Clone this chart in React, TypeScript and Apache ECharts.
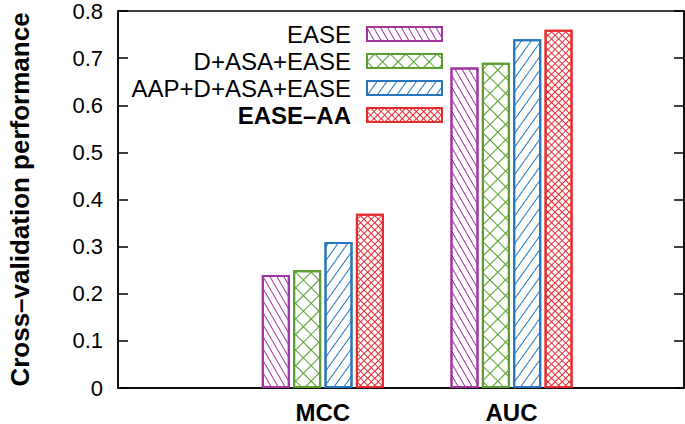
import React, { useEffect, useRef } from 'react';
import * as echarts from 'echarts';

const categories = ['MCC', 'AUC'];
const seriesNames = ['EASE', 'D+ASA+EASE', 'AAP+D+ASA+EASE', 'EASE–AA'];
const easeValues = [0.24, 0.68];
const dAsaEaseValues = [0.25, 0.69];
const aapDAsaEaseValues = [0.31, 0.74];
const easeAaValues = [0.37, 0.76];
const yAxisTitle = 'Cross–validation performance';

const FONT = "'Liberation Sans', Arial, Helvetica, sans-serif";
const colors = ['#a3349f', '#5b9e2f', '#2676bd', '#e52b2f'];

const plusThin = 'path://M0 4.5 H10 V5.5 H0 Z M4.5 0 H5.5 V10 H4.5 Z';
const plusThick = 'path://M0 4 H10 V6 H0 Z M4 0 H6 V10 H4 Z';

const decals: any[] = [
  { symbol: 'rect', symbolSize: 1, color: colors[0], dashArrayX: [1, 0], dashArrayY: [1, 5], rotation: Math.PI / 3 },
  { symbol: plusThin, symbolSize: 1, symbolKeepAspect: false, color: colors[1], dashArrayX: [11, 0], dashArrayY: [11, 0], rotation: Math.PI / 4 },
  { symbol: 'rect', symbolSize: 1, color: colors[2], dashArrayX: [1, 0], dashArrayY: [1, 7], rotation: -Math.PI / 3.3 },
  { symbol: plusThick, symbolSize: 1, symbolKeepAspect: false, color: colors[3], dashArrayX: [5, 0], dashArrayY: [5, 0], rotation: Math.PI / 4 },
];

export default function App() {
  const ref = useRef<HTMLDivElement>(null);
  useEffect(() => {
    if (!ref.current) return;
    const chart = echarts.init(ref.current, null, { renderer: 'svg' });
    const allValues = [easeValues, dAsaEaseValues, aapDAsaEaseValues, easeAaValues];
    const series = allValues.map((vals, i) => ({
      type: 'bar',
      name: seriesNames[i],
      data: vals.map((v, k) => [k, v]),
      barWidth: 28,
      barGap: '12%',
      itemStyle: {
        color: '#ffffff',
        borderColor: colors[i],
        borderWidth: 2,
        decal: decals[i],
      },
      emphasis: { disabled: true },
    }));
    const option: any = {
      animation: false,
      backgroundColor: '#ffffff',
      grid: {
        left: 118, right: 1, top: 11, bottom: 36,
        outerBoundsMode: 'none',
        containLabel: false,
        show: true, borderColor: '#000', borderWidth: 1.5, backgroundColor: 'transparent',
      },
      legend: {
        orient: 'vertical',
        align: 'right',
        right: 242,
        top: 22,
        padding: 0,
        itemWidth: 75,
        itemHeight: 14,
        itemGap: 3,
        icon: 'rect',
        selectedMode: false,
        itemStyle: { borderWidth: 2 },
        textStyle: { fontFamily: FONT, fontSize: 24, color: '#000', padding: [0, 11, 0, 0] },
        data: seriesNames.map((n, i) => (i === 3 ? { name: n, textStyle: { fontWeight: 'bold' } } : { name: n })),
      },
      xAxis: {
        type: 'value',
        min: -1.0856,
        max: 1.914,
        splitLine: { show: false },
        axisTick: { show: false },
        axisLine: { show: true, onZero: false, lineStyle: { color: '#000', width: 1.5 } },
        axisLabel: {
          customValues: categories.map((_, k) => k),
          formatter: (v: number) => categories[Math.round(v)] ?? '',
          fontFamily: FONT,
          fontSize: 24,
          fontWeight: 'bold',
          color: '#000',
          margin: 12,
        },
      },
      yAxis: [
        {
          type: 'value',
          min: 0,
          max: 0.8,
          interval: 0.1,
          position: 'left',
          name: yAxisTitle,
          nameLocation: 'middle',
          nameRotate: 90,
          nameGap: 85,
          nameTextStyle: { fontFamily: FONT, fontSize: 26, fontWeight: 'bold', color: '#000' },
          splitLine: { show: false },
          axisLine: { show: true, onZero: false, lineStyle: { color: '#000', width: 1.5 } },
          axisTick: { show: true, inside: true, length: 10, lineStyle: { color: '#000', width: 1.5 } },
          axisLabel: {
            formatter: (v: number) => (v === 0 ? '0' : v.toFixed(1)),
            fontFamily: FONT,
            fontSize: 22,
            lineHeight: 20,
            color: '#000',
            margin: 15,
          },
        },
        {
          type: 'value',
          min: 0,
          max: 0.8,
          interval: 0.1,
          position: 'right',
          splitLine: { show: false },
          axisLine: { show: true, onZero: false, lineStyle: { color: '#000', width: 1.5 } },
          axisTick: { show: true, inside: true, length: 10, lineStyle: { color: '#000', width: 1.5 } },
          axisLabel: { show: false },
        },
      ],
      series,
    };
    chart.setOption(option);
    return () => chart.dispose();
  }, []);
  return <div ref={ref} style={{ position: 'fixed', left: 0, top: 0, width: 685, height: 424 }} />;
}
